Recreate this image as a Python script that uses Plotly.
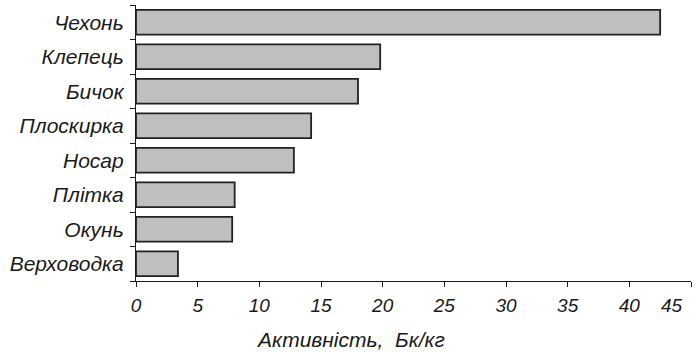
import plotly.graph_objects as go

categories = ["Чехонь", "Клепець", "Бичок", "Плоскирка", "Носар", "Плітка", "Окунь", "Верховодка"]
values = [42.5, 19.8, 18.0, 14.2, 12.8, 8.0, 7.8, 3.4]
x_ticks = [0, 5, 10, 15, 20, 25, 30, 35, 40, 45]
x_title = "Активність,  Бк/кг"

FONT = "Liberation Sans"
TXT = "#1a1a1a"

fig = go.Figure(go.Bar(
    x=values, y=categories, orientation="h",
    marker=dict(color="#bebfc1", line=dict(color="#222222", width=1.8)),
    width=0.72,
))

# last tick label is drawn right-aligned to the axis end, as in the reference
last = x_ticks[-1]
fig.update_layout(
    width=700, height=355,
    margin=dict(l=136, r=9, t=5, b=74),
    paper_bgcolor="white", plot_bgcolor="white",
    showlegend=False,
    font=dict(family=FONT, size=21, color=TXT, style="italic"),
    annotations=[
        dict(text=x_title, xref="paper", yref="paper", x=0.386, y=0,
             yshift=-58, showarrow=False, xanchor="center", yanchor="middle",
             font=dict(family=FONT, size=21, color=TXT, style="italic")),
        dict(text=str(last), xref="x", yref="paper", x=last, y=0,
             yshift=-24, xshift=-6, showarrow=False, xanchor="right", yanchor="middle",
             font=dict(family=FONT, size=19, color=TXT, style="italic")),
    ],
)

fig.update_xaxes(
    range=[0, 45], tickvals=x_ticks,
    ticktext=[str(v) if v != last else "" for v in x_ticks],
    automargin=False,
    showgrid=False, zeroline=False, showline=True, linecolor=TXT, linewidth=1.2,
    ticks="outside", ticklen=5, tickcolor=TXT, tickwidth=1.2,
    ticklabelstandoff=2,
    tickfont=dict(family=FONT, size=19, style="italic", color=TXT),
)
fig.update_yaxes(
    categoryorder="array", categoryarray=categories[::-1],
    automargin=False,
    showgrid=False, zeroline=False, showline=True, linecolor=TXT, linewidth=1.2,
    ticks="outside", ticklen=5, tickcolor=TXT, tickwidth=1.2, tickson="boundaries",
    ticklabelstandoff=7,
    tickfont=dict(family=FONT, size=21, style="italic", color=TXT),
    range=[-0.5, 7.5],
)

fig.write_html("out.html", config={"displayModeBar": False},
               post_script="document.body.style.margin='0';")
